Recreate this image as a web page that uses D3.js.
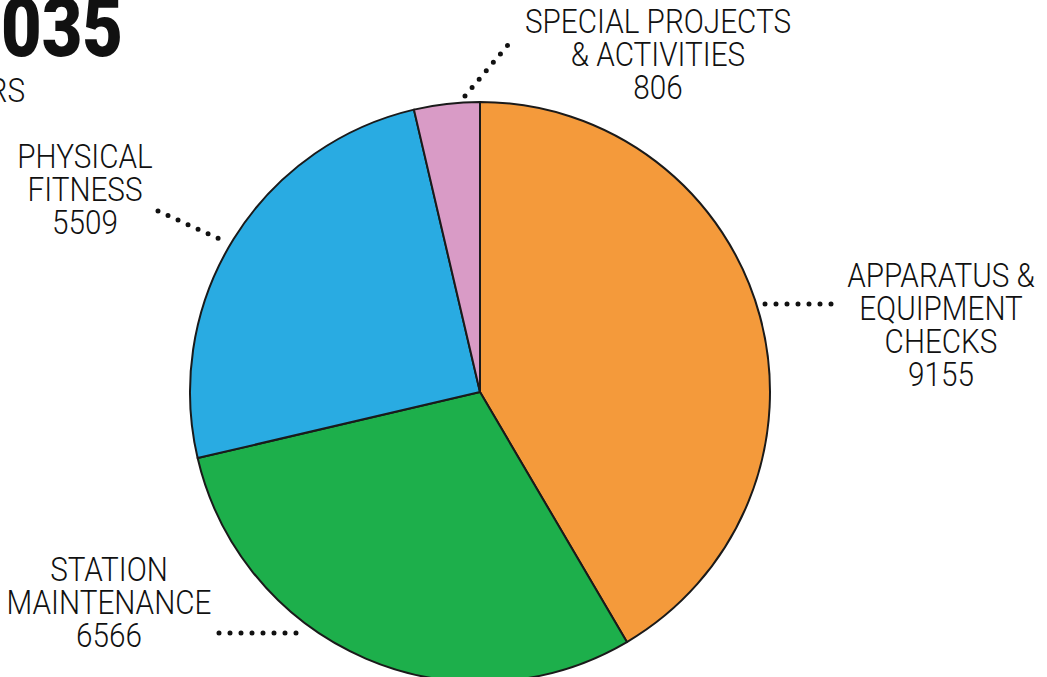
<!DOCTYPE html>
<html><head><meta charset="utf-8">
<script src="https://cdn.jsdelivr.net/npm/d3@7"></script>
<style>
html,body{margin:0;padding:0;background:#fff;overflow:hidden}
svg{display:block}
.lbl{font-family:"Roboto","Liberation Sans",sans-serif;font-weight:300;font-size:33px;fill:#111;text-anchor:middle}
</style></head><body>
<svg id="c" width="1047" height="677"></svg>
<script>
const categories = ["APPARATUS & EQUIPMENT CHECKS","STATION MAINTENANCE","PHYSICAL FITNESS","SPECIAL PROJECTS & ACTIVITIES"];
const values = [9155, 6566, 5509, 806];
const labelLines = [["APPARATUS &","EQUIPMENT","CHECKS"],["STATION","MAINTENANCE"],["PHYSICAL","FITNESS"],["SPECIAL PROJECTS","& ACTIVITIES"]];
const colors = ["#F49A3B","#1DAF4B","#29ABE2","#D99BC6"];
const titleText = "22,035";
const subtitleText = "HOURS";

const svg = d3.select("#c");
const cx = 480, cy = 392, R = 290;
const sx = 0.9; // horizontal condensing of label font

// title (cropped at left edge, as in the reference)
svg.append("text").attr("transform","translate(123,56) scale(0.9,1.08)")
  .attr("text-anchor","end")
  .style("font-family","Roboto,'Liberation Sans',sans-serif")
  .style("font-weight","900").style("font-size","78px").style("fill","#111")
  .text(titleText);
svg.append("text").attr("class","lbl")
  .attr("transform",`translate(25,102) scale(${sx},1)`)
  .style("text-anchor","end").text(subtitleText);

const pie = d3.pie().sort(null).startAngle(0).endAngle(2*Math.PI);
const arcs = pie(values);
const arc = d3.arc().innerRadius(0).outerRadius(R);

const g = svg.append("g").attr("transform",`translate(${cx},${cy})`);
g.selectAll("path").data(arcs).enter().append("path")
  .attr("d",arc).attr("fill",(d,i)=>colors[i])
  .attr("stroke","#1a1a1a").attr("stroke-width",2).attr("stroke-linejoin","round");

// label layout (annotation positions)
const layout = [
  {x:941, y:287, lead:[[765,304],[837,304]]},
  {x:109, y:581, lead:[[219,633],[304,633]]},
  {x:85,  y:168, lead:[[158,211],[224,241]]},
  {x:658, y:33,  lead:[[465,96],[513,39]]}
];
const lh = 33;
layout.forEach((L,i)=>{
  const t = svg.append("text").attr("class","lbl")
    .attr("transform",`translate(${L.x},${L.y}) scale(${sx},1)`);
  const lines = labelLines[i].concat([String(values[i])]);
  lines.forEach((s,j)=>{
    t.append("tspan").attr("x",0).attr("y",j*lh).text(s);
  });
  svg.append("line")
    .attr("x1",L.lead[0][0]).attr("y1",L.lead[0][1])
    .attr("x2",L.lead[1][0]).attr("y2",L.lead[1][1])
    .attr("stroke","#111").attr("stroke-width",5)
    .attr("stroke-linecap","round").attr("stroke-dasharray","0 11");
});
</script>
</body></html>
